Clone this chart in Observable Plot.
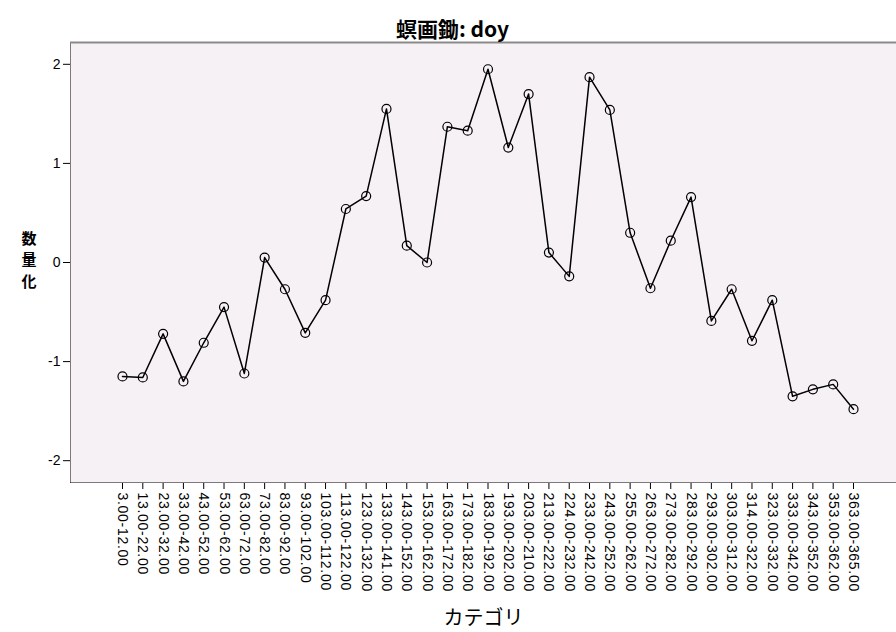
<!DOCTYPE html>
<html>
<head>
<meta charset="utf-8">
<script src="https://cdn.jsdelivr.net/npm/d3@7"></script>
<script src="https://cdn.jsdelivr.net/npm/@observablehq/plot@0.6"></script>
<style>
  html, body { margin: 0; padding: 0; background: white; }
  #chart svg [aria-label^="x-axis"] text { letter-spacing: 0.7px; }
  #chart svg path.domain { stroke: #555; stroke-width: 2px; }
  #chart svg [aria-label^="x-axis"] line, #chart svg [aria-label^="y-axis"] line { stroke: #333; stroke-width: 1.2px; }
</style>
</head>
<body>
<div id="chart"></div>
<script>
const categories = [
  "3.00-12.00", "13.00-22.00", "23.00-32.00", "33.00-42.00", "43.00-52.00",
  "53.00-62.00", "63.00-72.00", "73.00-82.00", "83.00-92.00", "93.00-102.00",
  "103.00-112.00", "113.00-122.00", "123.00-132.00", "133.00-141.00", "143.00-152.00",
  "153.00-162.00", "163.00-172.00", "173.00-182.00", "183.00-192.00", "193.00-202.00",
  "203.00-210.00", "213.00-222.00", "224.00-232.00", "233.00-242.00", "243.00-252.00",
  "255.00-262.00", "263.00-272.00", "273.00-282.00", "283.00-292.00", "293.00-302.00",
  "303.00-312.00", "314.00-322.00", "323.00-332.00", "333.00-342.00", "343.00-352.00",
  "353.00-362.00", "363.00-365.00"
];
const values = [
  -1.15, -1.16, -0.72, -1.20, -0.81,
  -0.45, -1.12, 0.05, -0.27, -0.71,
  -0.38, 0.54, 0.67, 1.55, 0.17,
  0.00, 1.37, 1.33, 1.95, 1.16,
  1.70, 0.10, -0.14, 1.87, 1.54,
  0.30, -0.26, 0.22, 0.66, -0.59,
  -0.27, -0.79, -0.38, -1.35, -1.28,
  -1.23, -1.48
];
const yTicks = [-2, -1, 0, 1, 2];
const yDomain = [-2.22, 2.22];
const title = "螟画鋤: doy";
const xLabel = "カテゴリ";
const yLabel = "数\n量\n化";

const data = categories.map((c, i) => ({cat: c, value: values[i]}));

const chart = Plot.plot({
  width: 896,
  height: 632,
  marginLeft: 70,
  marginRight: 0,
  marginTop: 42,
  marginBottom: 150,
  style: {fontFamily: "'Liberation Sans', Arial, sans-serif", fontSize: "14px", background: "white", color: "black", overflow: "visible"},
  x: {type: "point", domain: categories, padding: 0, round: false, insetLeft: 52, insetRight: 43, label: null, tickRotate: 90, tickSize: 7, tickPadding: 3, line: true},
  y: {domain: yDomain, ticks: yTicks, tickFormat: d => String(d), label: null, tickSize: 7, tickPadding: 3, line: true},
  marks: [
    Plot.frame({fill: "#f6f1f5", stroke: null}),
    Plot.ruleY([yDomain[1]], {stroke: "#8a8a8a", strokeWidth: 2}),
    Plot.line(data, {x: "cat", y: "value", stroke: "black", strokeWidth: 1.5}),
    Plot.dot(data, {x: "cat", y: "value", r: 4.5, stroke: "black", fill: "none", strokeWidth: 1.2}),
    Plot.text([title], {frameAnchor: "top", dx: -31, dy: -20, fontSize: 21, fontWeight: "bold", fontFamily: "'Noto Sans CJK JP', 'Liberation Sans', sans-serif"}),
    Plot.text([xLabel], {frameAnchor: "bottom", dy: 142, fontSize: 20, letterSpacing: "1px", fontFamily: "'Noto Sans CJK JP', sans-serif"}),
    Plot.text([yLabel], {frameAnchor: "left", dx: -49, dy: -4, fontSize: 15, fontWeight: "bold", lineHeight: 1.45, fontFamily: "'Noto Sans CJK JP', sans-serif"})
  ]
});
document.getElementById("chart").appendChild(chart);
</script>
</body>
</html>
